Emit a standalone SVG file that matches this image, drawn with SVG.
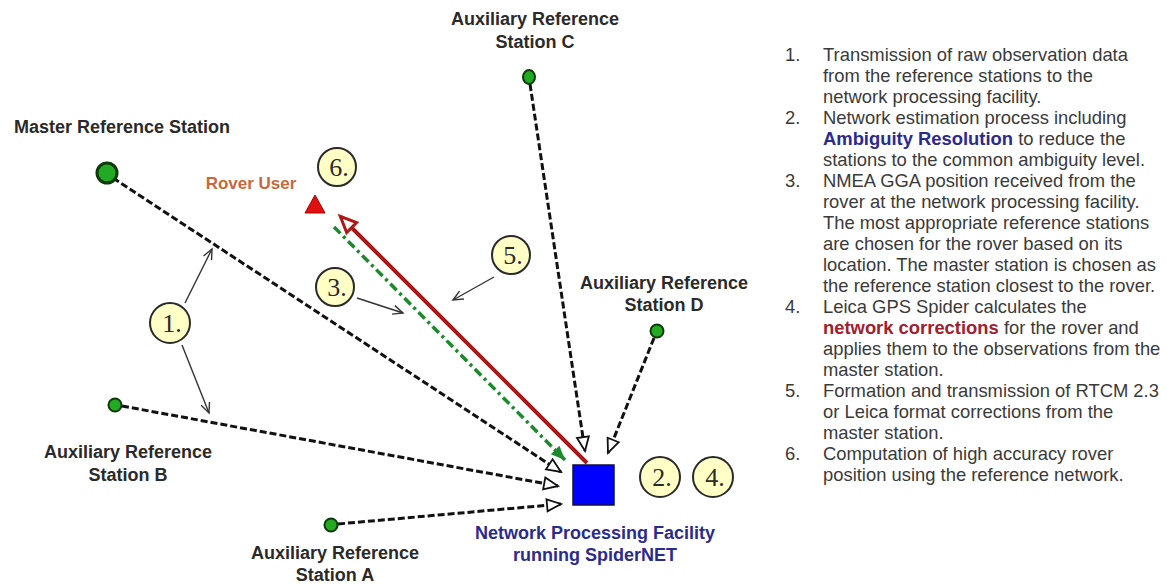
<svg xmlns="http://www.w3.org/2000/svg" width="1167" height="584" viewBox="0 0 1167 584">
<style>
.lbl{font-family:"Liberation Sans",Arial,sans-serif;font-weight:bold;font-size:18px;fill:#2a2a2a;text-anchor:middle}
.sta{fill:#22aa22;stroke:#0c3a0c;stroke-width:2}
.num{fill:#ffffc6;stroke:#2a2a2a;stroke-width:2}
.numt{font-family:"Liberation Serif","Times New Roman",serif;font-size:26px;fill:#2a2a2a;text-anchor:middle}
.dash{fill:none;stroke:#111;stroke-width:3;stroke-dasharray:7 3;marker-end:url(#open)}
.lead{fill:none;stroke:#333;stroke-width:1.4;marker-end:url(#vee)}
.list{font-family:"Liberation Sans",Arial,sans-serif;font-size:18.4px;fill:#3a3a3a}
</style>
<defs>
<marker id="open" markerUnits="userSpaceOnUse" viewBox="-2 -2 18 16" refX="14" refY="6" markerWidth="18" markerHeight="16" orient="auto">
<path d="M0,0 L14,6 L0,12 z" fill="#fff" stroke="#111" stroke-width="1.8"/>
</marker>
<marker id="vee" markerUnits="userSpaceOnUse" viewBox="-2 -2 14 13" refX="10" refY="4.5" markerWidth="14" markerHeight="13" orient="auto">
<path d="M0,0 L10,4.5 L0,9" fill="none" stroke="#333" stroke-width="1.4"/>
</marker>
<marker id="redhead" markerUnits="userSpaceOnUse" viewBox="-3 -3 22 20" refX="15" refY="7" markerWidth="22" markerHeight="20" orient="auto">
<path d="M0,0 L16,7 L0,14 z" fill="#fff" stroke="#b01818" stroke-width="3"/>
</marker>
<marker id="greenhead" markerUnits="userSpaceOnUse" viewBox="-2 -2 18 16" refX="14" refY="6" markerWidth="18" markerHeight="16" orient="auto">
<path d="M0,0 L14,6 L0,12 z" fill="#1a8a2a"/>
</marker>
</defs>
<rect width="1167" height="584" fill="#fff"/>

<g id="connectors">
<path class="dash" d="M113,178 L561,472"/>
<path class="dash" d="M122,406 L558,486"/>
<path class="dash" d="M338,524 L561,504"/>
<path class="dash" d="M530,84 L585,451"/>
<path class="dash" d="M654,338 L608,453"/>
<path d="M587,463 L341,217" fill="none" stroke="#a81818" stroke-width="4" marker-end="url(#redhead)"/>
<path d="M334,227 L565,460" fill="none" stroke="#1a8a2a" stroke-width="3.5" stroke-dasharray="9 4 3 4" marker-end="url(#greenhead)"/>
<path class="lead" d="M185,303 L212,249"/>
<path class="lead" d="M182,345 L209,413"/>
<path class="lead" d="M357,298 L403,313"/>
<path class="lead" d="M494,277 L453,300"/>
</g>

<g id="master">
<circle cx="107" cy="173" r="10" fill="#22aa22" stroke="#0c3a0c" stroke-width="3"/>
<text class="lbl" x="122" y="133">Master Reference Station</text>
</g>
<g id="stationC">
<ellipse class="sta" cx="529" cy="77" rx="6" ry="7"/>
<text class="lbl" x="535" y="25">Auxiliary Reference</text>
<text class="lbl" x="535" y="48">Station C</text>
</g>
<g id="stationD">
<circle class="sta" cx="657" cy="331" r="6.5"/>
<text class="lbl" x="664" y="289">Auxiliary Reference</text>
<text class="lbl" x="664" y="311">Station D</text>
</g>
<g id="stationB">
<circle class="sta" cx="115" cy="405" r="6.5"/>
<text class="lbl" x="128" y="458">Auxiliary Reference</text>
<text class="lbl" x="128" y="481">Station B</text>
</g>
<g id="stationA">
<circle class="sta" cx="331" cy="525" r="6.5"/>
<text class="lbl" x="335" y="559">Auxiliary Reference</text>
<text class="lbl" x="335" y="581">Station A</text>
</g>
<g id="rover">
<polygon points="315,195 305,213 325,213" fill="#e01010" stroke="#a00" stroke-width="1"/>
<text class="lbl" x="251" y="189" style="fill:#c8683c;font-size:17px">Rover User</text>
</g>
<g id="facility">
<rect x="573" y="465" width="41" height="40" fill="#0000ff" stroke="#101040" stroke-width="1.5"/>
<text class="lbl" x="595" y="539" style="fill:#2b2b8c">Network Processing Facility</text>
<text class="lbl" x="595" y="561" style="fill:#2b2b8c">running SpiderNET</text>
</g>

<g id="step1"><circle class="num" cx="170" cy="323" r="20"/><text class="numt" x="172" y="332">1.</text></g>
<g id="step2"><circle class="num" cx="660" cy="477" r="20"/><text class="numt" x="662" y="486">2.</text></g>
<g id="step3"><circle class="num" cx="335" cy="287" r="19"/><text class="numt" x="337" y="296">3.</text></g>
<g id="step4"><circle class="num" cx="713" cy="477" r="20"/><text class="numt" x="715" y="486">4.</text></g>
<g id="step5"><circle class="num" cx="511" cy="255" r="19"/><text class="numt" x="513" y="264">5.</text></g>
<g id="step6"><circle class="num" cx="337" cy="167" r="19"/><text class="numt" x="339" y="176">6.</text></g>

<g id="legend" class="list">
<text x="785" y="61">1.</text><text x="823" y="61">Transmission of raw observation data</text>
<text x="823" y="82">from the reference stations to the</text>
<text x="823" y="103">network processing facility.</text>
<text x="785" y="124">2.</text><text x="823" y="124">Network estimation process including</text>
<text x="823" y="145"><tspan font-weight="bold" fill="#2a2a90">Ambiguity Resolution</tspan> to reduce the</text>
<text x="823" y="166">stations to the common ambiguity level.</text>
<text x="785" y="187">3.</text><text x="823" y="187">NMEA GGA position received from the</text>
<text x="823" y="208">rover at the network processing facility.</text>
<text x="823" y="229">The most appropriate reference stations</text>
<text x="823" y="250">are chosen for the rover based on its</text>
<text x="823" y="271">location. The master station is chosen as</text>
<text x="823" y="292">the reference station closest to the rover.</text>
<text x="785" y="313">4.</text><text x="823" y="313">Leica GPS Spider calculates the</text>
<text x="823" y="334"><tspan font-weight="bold" fill="#a02030">network corrections</tspan> for the rover and</text>
<text x="823" y="355">applies them to the observations from the</text>
<text x="823" y="376">master station.</text>
<text x="785" y="397">5.</text><text x="823" y="397">Formation and transmission of RTCM 2.3</text>
<text x="823" y="418">or Leica format corrections from the</text>
<text x="823" y="439">master station.</text>
<text x="785" y="460">6.</text><text x="823" y="460">Computation of high accuracy rover</text>
<text x="823" y="481">position using the reference network.</text>
</g>
</svg>
